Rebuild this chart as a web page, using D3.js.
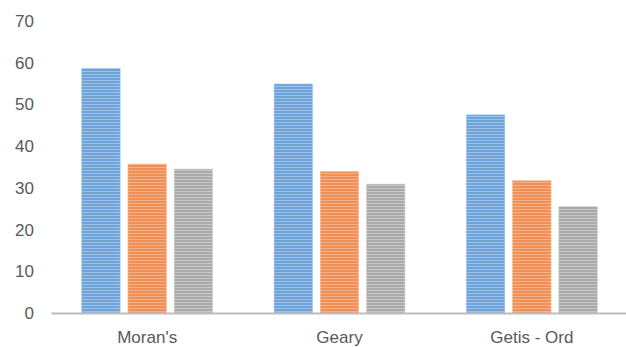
<!DOCTYPE html>
<html>
<head>
<meta charset="utf-8">
<script src="https://cdn.jsdelivr.net/npm/d3@7"></script>
<style>
  html, body { margin: 0; padding: 0; background: #fff; }
  svg { display: block; }
  text { font-family: "Liberation Sans", Arial, sans-serif; fill: #595959; }
</style>
</head>
<body>
<div id="chart"></div>
<script>
const width = 626;
const height = 347;

// Data
const categories = ["Moran's", 'Geary', 'Getis - Ord'];
const seriesNames = ['s1', 's2', 's3'];
const series1 = [58.6, 54.9, 47.5];
const series2 = [35.7, 33.9, 31.7];
const series3 = [34.5, 30.9, 25.5];
const yTicks = [0, 10, 20, 30, 40, 50, 60, 70];

const seriesValues = [series1, series2, series3];
const colors = [
  { base: '#6fa3d8', light: '#9cc2e8' },
  { base: '#ef8f56', light: '#f5b286' },
  { base: '#aaaaaa', light: '#c8c8c8' },
];

const svg = d3.select('#chart').append('svg')
  .attr('width', width)
  .attr('height', height);

// striped fills
const defs = svg.append('defs');
colors.forEach((c, i) => {
  const p = defs.append('pattern')
    .attr('id', 'stripe' + i)
    .attr('patternUnits', 'userSpaceOnUse')
    .attr('width', 4)
    .attr('height', 3);
  p.append('rect').attr('width', 4).attr('height', 3).attr('fill', c.base);
  p.append('rect').attr('y', 2).attr('width', 4).attr('height', 1).attr('fill', c.light);
});

const x0 = d3.scaleBand()
  .domain(categories)
  .range([51, 628])
  .paddingInner(0.32)
  .paddingOuter(0.16);

const x1 = d3.scaleBand()
  .domain(seriesNames)
  .range([0, x0.bandwidth()])
  .paddingInner(0.17);

const y = d3.scaleLinear()
  .domain([0, 70])
  .range([313, 21]);

// y axis labels
const yAxis = g => g
  .attr('transform', 'translate(34,0)')
  .call(d3.axisLeft(y).tickValues(yTicks).tickSize(0).tickPadding(0))
  .call(g => g.select('.domain').remove())
  .call(g => g.selectAll('text')
    .attr('font-size', 17)
    .attr('font-family', '"Liberation Sans", Arial, sans-serif')
    .attr('fill', '#595959'));

svg.append('g').call(yAxis);

// bars
const groups = svg.append('g')
  .selectAll('g')
  .data(categories)
  .join('g')
  .attr('transform', d => `translate(${x0(d)},0)`);

groups.selectAll('rect')
  .data((d, ci) => seriesNames.map((s, si) => ({ s, si, v: seriesValues[si][ci] })))
  .join('rect')
  .attr('x', d => x1(d.s))
  .attr('y', d => y(d.v))
  .attr('width', x1.bandwidth())
  .attr('height', d => y(0) - y(d.v))
  .attr('fill', d => `url(#stripe${d.si})`)
  .attr('stroke', d => colors[d.si].light)
  .attr('stroke-width', 0.6);

// x axis
const xAxis = g => g
  .attr('transform', `translate(0,${y(0)})`)
  .call(d3.axisBottom(x0).tickSize(0).tickPadding(18))
  .call(g => g.select('.domain')
    .attr('stroke', '#bdbdbd')
    .attr('stroke-width', 2))
  .call(g => g.selectAll('text')
    .attr('font-size', 17)
    .attr('font-family', '"Liberation Sans", Arial, sans-serif')
    .attr('fill', '#595959'));

svg.append('g').call(xAxis);
</script>
</body>
</html>
